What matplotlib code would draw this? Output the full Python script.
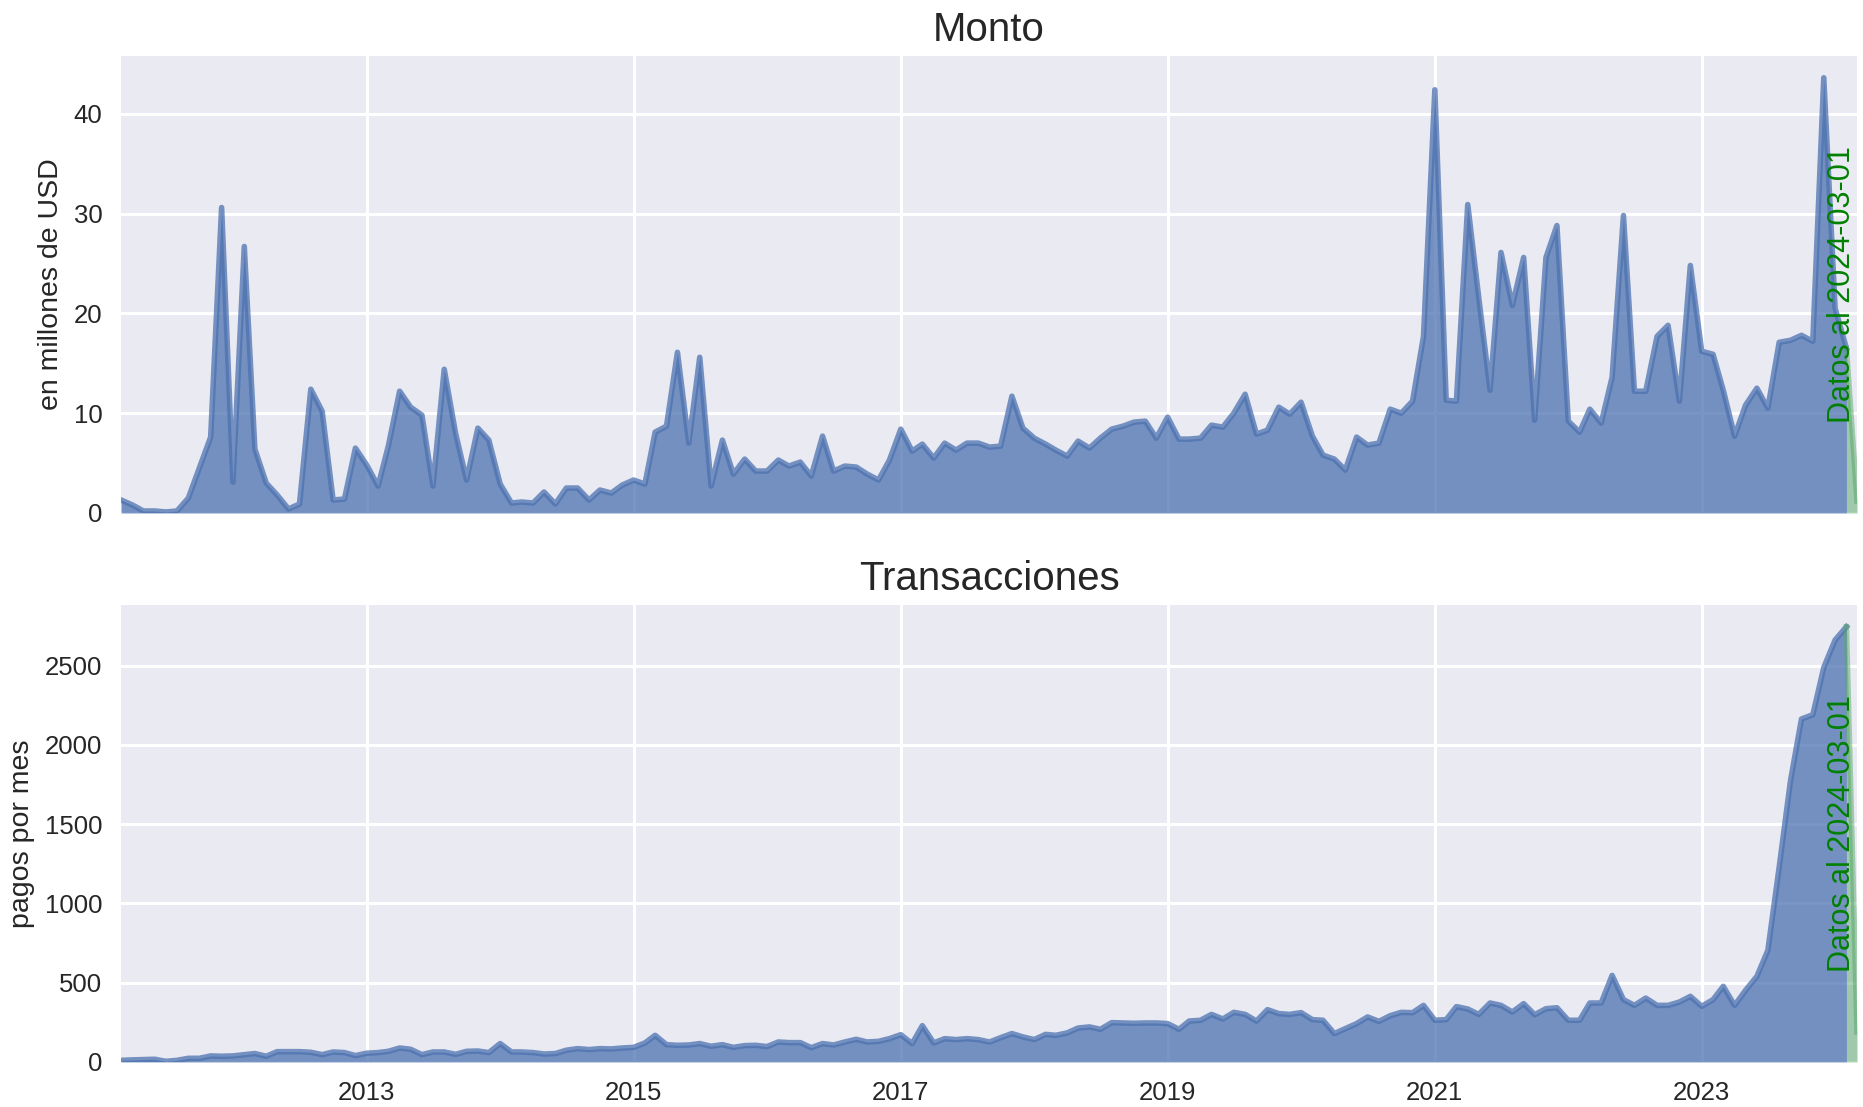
import numpy as np
import pandas as pd
import matplotlib
matplotlib.use("Agg")
import matplotlib.pyplot as plt
import matplotlib.dates as mdates
import matplotlib.transforms as mtransforms

# monthly series, 2011-03 .. 2024-03 (last month is partial)
fechas = pd.date_range("2011-03-01", "2024-03-01", freq="MS")

monto = [
    1.3, 0.8, 0.2, 0.2, 0.1, 0.2, 1.5, 4.5, 7.6, 30.6,
    3.1, 26.7, 6.4, 3.0, 1.8, 0.4, 0.9, 12.4, 10.2, 1.3,
    1.4, 6.5, 4.8, 2.7, 6.7, 12.2, 10.6, 9.8, 2.7, 14.4,
    8.0, 3.3, 8.5, 7.3, 2.9, 1.0, 1.1, 1.0, 2.1, 0.9,
    2.5, 2.5, 1.3, 2.3, 2.0, 2.8, 3.3, 2.9, 8.1, 8.7,
    16.1, 7.0, 15.6, 2.7, 7.3, 3.9, 5.4, 4.2, 4.2, 5.3,
    4.7, 5.1, 3.7, 7.7, 4.2, 4.7, 4.6, 3.9, 3.3, 5.3,
    8.4, 6.2, 6.9, 5.5, 7.0, 6.3, 7.0, 7.0, 6.6, 6.7,
    11.7, 8.5, 7.5, 6.9, 6.3, 5.7, 7.2, 6.5, 7.5, 8.4,
    8.7, 9.1, 9.2, 7.5, 9.6, 7.4, 7.4, 7.5, 8.8, 8.6,
    10.0, 11.9, 7.9, 8.3, 10.6, 9.9, 11.1, 7.7, 5.8, 5.4,
    4.3, 7.6, 6.8, 7.0, 10.4, 10.0, 11.2, 17.7, 42.4, 11.3,
    11.2, 30.9, 21.6, 12.3, 26.1, 20.8, 25.6, 9.3, 25.6, 28.8,
    9.2, 8.1, 10.4, 9.0, 13.6, 29.8, 12.2, 12.2, 17.7, 18.8,
    11.2, 24.8, 16.2, 15.9, 12.3, 7.7, 10.8, 12.5, 10.5, 17.1,
    17.3, 17.8, 17.2, 43.6, 20.5, 16.5, 1.2,
]

transacciones = [
    10, 13, 15, 17, 4, 10, 23, 23, 38, 36,
    38, 46, 53, 36, 65, 65, 65, 61, 46, 63,
    59, 40, 55, 59, 67, 88, 80, 46, 63, 63,
    48, 67, 69, 59, 116, 63, 63, 59, 50, 53,
    74, 84, 78, 84, 82, 88, 92, 120, 168, 109,
    105, 107, 116, 99, 109, 92, 103, 105, 97, 126,
    122, 122, 90, 116, 107, 126, 143, 126, 130, 147,
    172, 116, 229, 120, 147, 141, 147, 141, 126, 153,
    179, 158, 141, 174, 168, 183, 214, 221, 206, 248,
    246, 244, 246, 246, 242, 206, 258, 263, 300, 271,
    313, 300, 258, 330, 305, 300, 311, 267, 263, 179,
    210, 242, 284, 256, 292, 313, 311, 357, 263, 267,
    349, 334, 300, 372, 357, 315, 368, 298, 336, 342,
    263, 263, 372, 372, 546, 393, 357, 403, 357, 357,
    378, 414, 351, 393, 477, 357, 452, 540, 704, 1229,
    1775, 2164, 2191, 2489, 2662, 2746, 189,
]

titulos = ["Monto", "Transacciones"]
ylabels = ["en millones de USD", "pagos por mes"]
nota = "Datos al 2024-03-01"
anios = [2013, 2015, 2017, 2019, 2021, 2023]

# darkgrid-like look
plt.rcParams["font.family"] = ["Liberation Sans", "DejaVu Sans"]
plt.rcParams["axes.facecolor"] = "#EAEAF2"
plt.rcParams["axes.edgecolor"] = "white"
plt.rcParams["axes.linewidth"] = 0
plt.rcParams["grid.color"] = "white"
plt.rcParams["grid.linewidth"] = 2.2
plt.rcParams["text.color"] = ".15"
plt.rcParams["axes.labelcolor"] = ".15"
plt.rcParams["xtick.color"] = ".15"
plt.rcParams["ytick.color"] = ".15"

azul = "#4C72B0"
verde = "#55A868"

fig, axes = plt.subplots(2, 1, figsize=(18.63, 11.07), dpi=100, sharex=True)
fig.subplots_adjust(left=0.065, right=0.9968, top=0.9494, bottom=0.0407, hspace=0.2013)

for ax, serie, titulo, ylab in zip(axes, [monto, transacciones], titulos, ylabels):
    y = np.array(serie, dtype=float)
    ax.fill_between(fechas[:-1], y[:-1], color=azul, alpha=0.75, lw=0)
    ax.plot(fechas[:-1], y[:-1], color=azul, alpha=0.75, lw=4)
    ax.fill_between(fechas[-2:], y[-2:], color=verde, alpha=0.5, lw=0)
    ax.plot(fechas[-2:], y[-2:], color=verde, alpha=0.5, lw=4)

    trans = mtransforms.blended_transform_factory(ax.transData, ax.transAxes)
    ax.text(fechas[-1], 0.5, nota, transform=trans, rotation=90,
            ha="right", va="center", color="green", fontsize=22)

    ax.set_title(titulo, fontsize=29, pad=11)
    ax.set_ylabel(ylab, fontsize=20.5, labelpad=7)
    ax.set_xlim(fechas[0], fechas[-1])
    ax.set_ylim(0, max(y) * 1.05)
    ax.grid(True)
    ax.set_axisbelow(True)
    ax.tick_params(length=0, pad=13.5, labelsize=18.5)

axes[1].set_xticks([pd.Timestamp(f"{a}-01-01") for a in anios])
axes[1].xaxis.set_major_formatter(mdates.DateFormatter("%Y"))
axes[0].tick_params(labelbottom=False)

fig.savefig("out.png", dpi=100)
